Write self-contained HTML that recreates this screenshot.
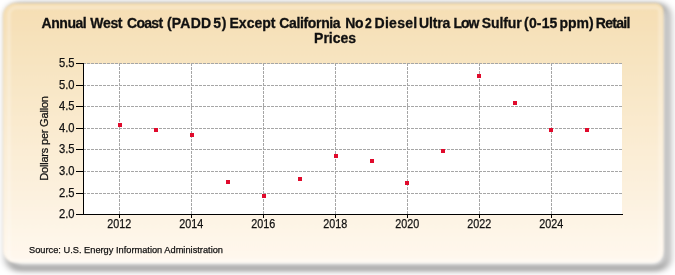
<!DOCTYPE html>
<html><head><meta charset="utf-8">
<style>
html,body{margin:0;padding:0;background:#fff;width:675px;height:275px;overflow:hidden}
svg{display:block;position:absolute;left:0;top:0;will-change:transform}
text{font-family:"Liberation Sans",sans-serif;fill:#111}
</style></head><body>
<svg width="675" height="275" viewBox="0 0 675 275">
<defs>
<linearGradient id="bg" x1="0" y1="0" x2="0" y2="1">
<stop offset="0" stop-color="#f5deb3"/>
<stop offset="1" stop-color="#fff8ee"/>
</linearGradient>
<filter id="sh" x="-5%" y="-10%" width="110%" height="120%">
<feGaussianBlur stdDeviation="4 3"/>
</filter>
<filter id="soft" x="-5%" y="-10%" width="110%" height="120%">
<feGaussianBlur stdDeviation="0.9"/>
</filter>
</defs>
<rect x="9" y="6" width="657.8" height="262" rx="10" fill="none" stroke="#000" stroke-opacity="1.0" stroke-width="2.5" filter="url(#sh)"/>
<path d="M16 3H655.5A8 8 0 0 1 663.5 11V251.5A11 11 0 0 1 652.5 262.5H15A12 12 0 0 1 3 250.5V16A13 13 0 0 1 16 3Z" fill="url(#bg)" filter="url(#soft)"/>
<path d="M16 7.5H655.5A4.5 4.5 0 0 1 660.0 12.0V252.8A7.5 7.5 0 0 1 652.5 260.3H15A6 6 0 0 1 9 254.3V14.5A7 7 0 0 1 16 7.5Z" fill="none" stroke="#fff" stroke-opacity="0.25" stroke-width="3.5" filter="url(#soft)"/>
<rect x="84" y="64" width="538" height="150" fill="#fff"/>
<g stroke="#a6a6a6" stroke-width="1" stroke-dasharray="3,1" fill="none">
<path d="M83 85.5H622M83 106.5H622M83 128.5H622M83 149.5H622M83 171.5H622M83 193.5H622M83 63.5H622"/>
<path d="M119.5 63V214M191.5 63V214M263.5 63V214M335.5 63V214M407.5 63V214M479.5 63V214M551.5 63V214"/>
</g>
<g stroke="#000" stroke-width="1" fill="none">
<path d="M83.5 63V215M83 214.5H623"/>
<path d="M76 63.5H83M76 85.5H83M76 106.5H83M76 128.5H83M76 149.5H83M76 171.5H83M76 193.5H83M76 214.5H83"/>
<path d="M119.5 215V218M191.5 215V218M263.5 215V218M335.5 215V218M407.5 215V218M479.5 215V218M551.5 215V218"/>
</g>
<g fill="#e00a2c"><rect x="118" y="123" width="4" height="4"/><rect x="154" y="128" width="4" height="4"/><rect x="190" y="133" width="4" height="4"/><rect x="226" y="180" width="4" height="4"/><rect x="262" y="194" width="4" height="4"/><rect x="298" y="177" width="4" height="4"/><rect x="334" y="154" width="4" height="4"/><rect x="370" y="159" width="4" height="4"/><rect x="405" y="181" width="4" height="4"/><rect x="441" y="149" width="4" height="4"/><rect x="477" y="74" width="4" height="4"/><rect x="513" y="101" width="4" height="4"/><rect x="549" y="128" width="4" height="4"/><rect x="585" y="128" width="4" height="4"/></g>
<g font-size="14" font-weight="bold" stroke="#111" stroke-width="0.3"><text x="41.5" y="27.8" letter-spacing="-0.44">Annual</text><text x="90.3" y="27.8" letter-spacing="-0.333">West</text><text x="127.0" y="27.8" letter-spacing="-0.7">Coast</text><text x="167.0" y="27.8" letter-spacing="0.2">(PADD</text><text x="213.2" y="27.8" letter-spacing="0.8">5)</text><text x="229.5" y="27.8" letter-spacing="0.02">Except</text><text x="279.3" y="27.8" letter-spacing="-0.356">California</text><text x="345.2" y="27.8" letter-spacing="-0.3">No</text><text x="364.9" y="27.8" letter-spacing="0.0" textLength="6.8" lengthAdjust="spacingAndGlyphs">2</text><text x="374.5" y="27.8" letter-spacing="0.3">Diesel</text><text x="419.0" y="27.8" letter-spacing="-0.175">Ultra</text><text x="453.5" y="27.8" letter-spacing="-1.1">Low</text><text x="481.7" y="27.8" letter-spacing="-0.1">Sulfur</text><text x="524.1" y="27.8" letter-spacing="0.15">(0-15</text><text x="559.6" y="27.8" letter-spacing="-0.067">ppm)</text><text x="595.8" y="27.8" letter-spacing="-0.7">Retail</text><text x="314.1" y="42.5" letter-spacing="-0.02">Prices</text></g>
<g stroke="#111" stroke-width="0.25">
<g font-size="12.2" text-anchor="end"><text x="74.6" y="67.1" textLength="15.6" lengthAdjust="spacingAndGlyphs">5.5</text><text x="74.6" y="89.1" textLength="15.6" lengthAdjust="spacingAndGlyphs">5.0</text><text x="74.6" y="110.1" textLength="15.6" lengthAdjust="spacingAndGlyphs">4.5</text><text x="74.6" y="132.1" textLength="15.6" lengthAdjust="spacingAndGlyphs">4.0</text><text x="74.6" y="153.1" textLength="15.6" lengthAdjust="spacingAndGlyphs">3.5</text><text x="74.6" y="175.1" textLength="15.6" lengthAdjust="spacingAndGlyphs">3.0</text><text x="74.6" y="197.1" textLength="15.6" lengthAdjust="spacingAndGlyphs">2.5</text><text x="74.6" y="218.1" textLength="15.6" lengthAdjust="spacingAndGlyphs">2.0</text></g>
<g font-size="12.4" text-anchor="middle"><text x="119.3" y="227.8" textLength="24.0" lengthAdjust="spacingAndGlyphs">2012</text><text x="191.3" y="227.8" textLength="24.0" lengthAdjust="spacingAndGlyphs">2014</text><text x="263.3" y="227.8" textLength="24.0" lengthAdjust="spacingAndGlyphs">2016</text><text x="335.3" y="227.8" textLength="24.0" lengthAdjust="spacingAndGlyphs">2018</text><text x="407.3" y="227.8" textLength="24.0" lengthAdjust="spacingAndGlyphs">2020</text><text x="479.3" y="227.8" textLength="24.0" lengthAdjust="spacingAndGlyphs">2022</text><text x="551.3" y="227.8" textLength="24.0" lengthAdjust="spacingAndGlyphs">2024</text></g>
<text transform="translate(48,138.5) rotate(-90)" font-size="11" letter-spacing="-0.2" text-anchor="middle">Dollars per Gallon</text>
<text x="29" y="252.7" font-size="9.8" textLength="194" lengthAdjust="spacingAndGlyphs">Source: U.S. Energy Information Administration</text>
</g>
</svg>
</body></html>
